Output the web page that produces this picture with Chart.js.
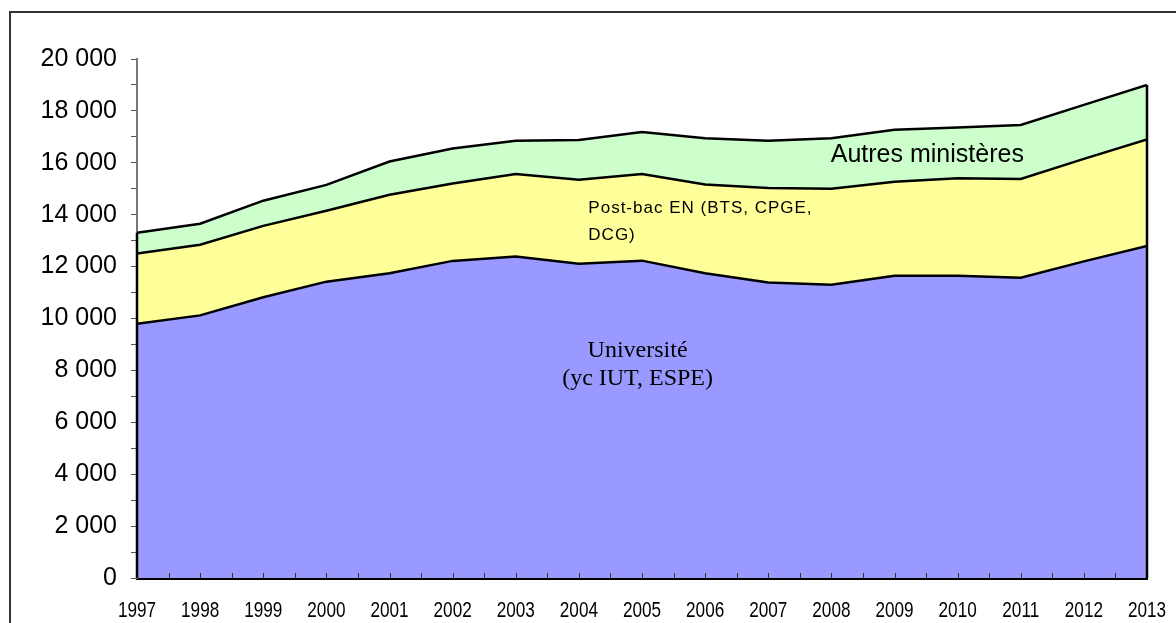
<!DOCTYPE html>
<html>
<head>
<meta charset="utf-8">
<script src="https://cdn.jsdelivr.net/npm/chart.js@4/dist/chart.umd.min.js"></script>
<style>
    body { margin: 0; background: #fff; }
    #wrap { position: relative; width: 1176px; height: 623px; overflow: hidden; }
    #frame { position: absolute; left: 9px; top: 11px; width: 1300px; height: 800px; border: 2px solid #333; }
    #chart { position: absolute; left: 0; top: 0; }
</style>
</head>
<body>
<div id="wrap">
    <div id="frame"></div>
    <canvas id="chart" width="1176" height="623"></canvas>
</div>
<script>
// years on the x axis
const years = [1997, 1998, 1999, 2000, 2001, 2002, 2003, 2004, 2005, 2006, 2007, 2008, 2009, 2010, 2011, 2012, 2013];

// stacked series
const universite = [9800, 10120, 10820, 11420, 11740, 12220, 12390, 12110, 12230, 11740, 11390, 11300, 11650, 11650, 11570, 12200, 12800];
const postBac = [2700, 2720, 2750, 2730, 3030, 2980, 3180, 3240, 3340, 3420, 3640, 3700, 3620, 3750, 3810, 3950, 4100];
const autres = [800, 810, 970, 1000, 1280, 1350, 1280, 1530, 1620, 1790, 1820, 1950, 2000, 1960, 2080, 2080, 2100];

// y axis
const yMin = 0;
const yMax = 20000;
const yMinorStep = 1000;
const yLabelStep = 2000;

// labels written inside the areas
const areaLabels = [
    { lines: ['Autres ministères'], x: 2009.52, y: 16030, lineGap: 0, align: 'center', font: '25px "Liberation Sans", Arial, sans-serif', spacing: '0px' },
    { lines: ['Post-bac EN (BTS, CPGE,', 'DCG)'], x: 2004.15, y: 14065, lineGap: 27, align: 'left', font: '17px "Liberation Sans", Arial, sans-serif', spacing: '1px' },
    { lines: ['Université', '(yc IUT, ESPE)'], x: 2004.93, y: 8516, lineGap: 28, align: 'center', font: '24px "Liberation Serif", "Times New Roman", serif', spacing: '0px' }
];

function fmt(v) {
    return String(v).replace(/\B(?=(\d{3})+(?!\d))/g, ' ');
}

function toPoints(arr) {
    return arr.map(function (v, i) { return { x: years[i], y: v }; });
}

const decorations = {
    id: 'decorations',
    afterDatasetsDraw: function (chart) {
        const ctx = chart.ctx;
        const xs = chart.scales.x;
        const ys = chart.scales.y;
        const area = chart.chartArea;

        // vertical black edges of the stacked area
        const first = 0, last = years.length - 1;
        const topFirst = universite[first] + postBac[first] + autres[first];
        const topLast = universite[last] + postBac[last] + autres[last];
        ctx.save();
        ctx.strokeStyle = '#000';
        ctx.lineWidth = 2.5;
        ctx.beginPath();
        ctx.moveTo(xs.getPixelForValue(years[first]), ys.getPixelForValue(0));
        ctx.lineTo(xs.getPixelForValue(years[first]), ys.getPixelForValue(topFirst));
        ctx.moveTo(xs.getPixelForValue(years[last]), ys.getPixelForValue(0));
        ctx.lineTo(xs.getPixelForValue(years[last]), ys.getPixelForValue(topLast));
        ctx.stroke();

        // small inside ticks on the x axis, every half year
        ctx.strokeStyle = '#333';
        ctx.lineWidth = 1;
        ctx.beginPath();
        for (let v = years[0] + 0.5; v < years[last]; v += 0.5) {
            const px = Math.round(xs.getPixelForValue(v)) + 0.5;
            ctx.moveTo(px, area.bottom);
            ctx.lineTo(px, area.bottom - 5);
        }
        ctx.stroke();

        // year labels, tall and narrow as in the original
        ctx.fillStyle = '#000';
        ctx.font = '22px "Liberation Sans", Arial, sans-serif';
        ctx.textAlign = 'center';
        ctx.textBaseline = 'alphabetic';
        years.forEach(function (y) {
            ctx.save();
            ctx.translate(xs.getPixelForValue(y), 617);
            ctx.scale(0.78, 1);
            ctx.fillText(String(y), 0, 0);
            ctx.restore();
        });

        // labels inside the areas
        areaLabels.forEach(function (l) {
            ctx.font = l.font;
            ctx.textAlign = l.align;
            ctx.letterSpacing = l.spacing;
            const px = xs.getPixelForValue(l.x);
            const py = ys.getPixelForValue(l.y);
            l.lines.forEach(function (t, i) {
                ctx.fillText(t, px, py + i * l.lineGap);
            });
        });
        ctx.restore();
    }
};

const ctx = document.getElementById('chart');
const myChart = new Chart(ctx, {
    type: 'line',
    data: {
        datasets: [{
            label: 'Université (yc IUT, ESPE)',
            data: toPoints(universite),
            backgroundColor: '#9999ff',
            borderColor: '#000',
            borderWidth: 2.5,
            fill: 'origin'
        }, {
            label: 'Post-bac EN (BTS, CPGE, DCG)',
            data: toPoints(postBac),
            backgroundColor: '#ffff99',
            borderColor: '#000',
            borderWidth: 2.5,
            fill: '-1'
        }, {
            label: 'Autres ministères',
            data: toPoints(autres),
            backgroundColor: '#ccffcc',
            borderColor: '#000',
            borderWidth: 2.5,
            fill: '-1'
        }]
    },
    options: {
        responsive: false,
        animation: false,
        events: [],
        elements: {
            point: { radius: 0 },
            line: { tension: 0 }
        },
        layout: {
            padding: { left: 0, right: 29, top: 59, bottom: 0 }
        },
        scales: {
            x: {
                type: 'linear',
                min: years[0],
                max: years[years.length - 1],
                afterFit: function (scale) {
                    scale.height = 45;
                    scale.paddingLeft = 0;
                    scale.paddingRight = 0;
                },
                grid: { display: false, drawTicks: false },
                border: { display: true, color: '#000', width: 3 },
                ticks: { display: false, stepSize: 1 }
            },
            y: {
                stacked: true,
                min: yMin,
                max: yMax,
                afterFit: function (scale) { scale.width = 137; },
                grid: { drawOnChartArea: false, tickLength: 6, color: '#555', lineWidth: 1 },
                border: { display: true, color: '#777', width: 2 },
                ticks: {
                    stepSize: yMinorStep,
                    autoSkip: false,
                    padding: 14,
                    color: '#000',
                    font: { family: '"Liberation Sans", Arial, sans-serif', size: 25 },
                    callback: function (value) {
                        return value % yLabelStep === 0 ? fmt(value) : '';
                    }
                }
            }
        },
        plugins: {
            legend: { display: false },
            tooltip: { enabled: false },
            title: { display: false }
        }
    },
    plugins: [decorations]
});
</script>
</body>
</html>
